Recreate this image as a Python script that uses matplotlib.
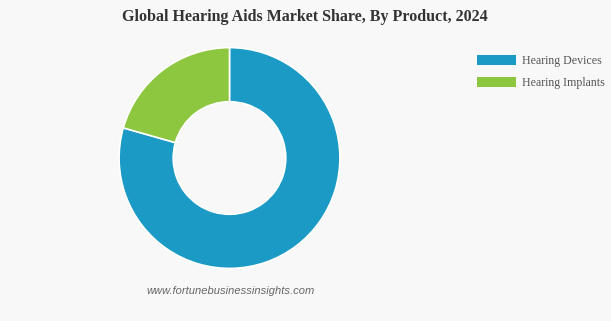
import matplotlib
matplotlib.use("Agg")
import matplotlib.pyplot as plt
from matplotlib.patches import Patch

products = ["Hearing Devices", "Hearing Implants"]
shares = [79.4, 20.6]
colors = ["#1a9ac4", "#8dc63f"]

W, H = 611, 321
bg = "#f8f8f8"
fig = plt.figure(figsize=(W / 100, H / 100), dpi=100, facecolor=bg)

# donut axes in pixel units: centre (229.5, 158), radius ~111
cx, cy, r = 229.5, 158, 111.5
ax = fig.add_axes([(cx - r) / W, (H - cy - r) / H, 2 * r / W, 2 * r / H])
ax.set_facecolor(bg)
ax.pie(shares, colors=colors, startangle=90, counterclock=False, radius=1,
       wedgeprops=dict(width=0.49, edgecolor="white", linewidth=1.2))
ax.set_xlim(-1.01, 1.01)
ax.set_ylim(-1.01, 1.01)
ax.set_aspect("equal")
ax.axis("off")

fig.text(305 / W, 1 - 17 / H, "Global Hearing Aids Market Share, By Product, 2024",
         ha="center", va="center", fontsize=11.5, fontweight="bold",
         family="Liberation Serif", color="#333333")

handles = [Patch(facecolor=c, edgecolor="none") for c in colors]
fig.legend(handles, products, loc="upper left", bbox_to_anchor=(472 / W, 1 - 50 / H),
           frameon=False, prop=dict(family="Liberation Serif", size=8.6),
           labelcolor="#555555", handlelength=3.3, handleheight=0.9,
           handletextpad=0.5, labelspacing=0.85, borderaxespad=0)

fig.text(230.5 / W, 1 - 291 / H, "www.fortunebusinessinsights.com", ha="center",
         va="center", fontsize=8.0, style="italic", family="Liberation Sans",
         color="#666666")

fig.savefig("out.png", dpi=100, facecolor=bg)
